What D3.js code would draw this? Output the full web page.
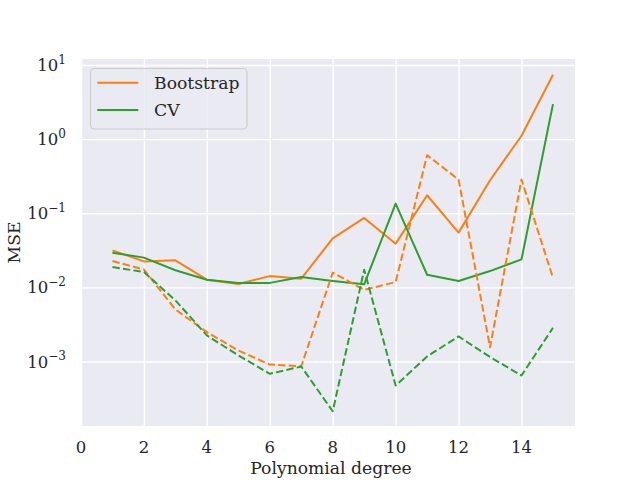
<!DOCTYPE html>
<html><head><meta charset="utf-8">
<script src="https://cdn.jsdelivr.net/npm/d3@7"></script>
<style>body{margin:0;background:#fff} svg{display:block}</style>
</head><body>
<svg id="c" width="640" height="480"></svg>
<script>
const degrees = [1,2,3,4,5,6,7,8,9,10,11,12,13,14,15];
const bootstrapSolid = [0.0316,0.0224,0.0232,0.0127,0.0111,0.0142,0.0131,0.0459,0.0865,0.0389,0.175,0.0548,0.279,1.11,7.4];
const cvSolid = [0.0294,0.0252,0.0170,0.0127,0.0115,0.0115,0.0138,0.0122,0.0110,0.135,0.0148,0.0122,0.0166,0.0239,2.97];
const bootstrapDashed = [0.0227,0.0174,0.00504,0.00249,0.00141,0.00091,0.000864,0.0158,0.0093,0.0118,0.608,0.285,0.00156,0.285,0.0134];
const cvDashed = [0.0188,0.0161,0.00667,0.00225,0.00121,0.000683,0.000855,0.000213,0.0173,0.000474,0.00117,0.00218,0.00115,0.000647,0.00285];
const xTicks = [0,2,4,6,8,10,12,14];
const yTicks = [1e-3,1e-2,1e-1,1e0,1e1];
const yTickExps = ["\u22123","\u22122","\u22121","0","1"];
const legendLabels = ["Bootstrap","CV"];
const colors = {boot:"#ff7f0e", cv:"#2ca02c"};

const FONT = "'DejaVu Serif', serif";
const svg = d3.select("#c");
const L = 81, R = 575, T = 59, B = 426;
const x = d3.scaleLinear().domain([0, 15.7]).range([L, R]);
const y = d3.scaleLog().domain([Math.pow(10,-3.87), Math.pow(10,1.081)]).range([B, T]);

svg.append("rect").attr("x",L).attr("y",T).attr("width",R-L).attr("height",B-T).attr("fill","#eaeaf2");

// grid via axes
const gx = svg.append("g").attr("transform",`translate(0,${B})`)
  .call(d3.axisBottom(x).tickValues(xTicks).tickSize(-(B-T)).tickFormat(""));
const gy = svg.append("g").attr("transform",`translate(${L},0)`)
  .call(d3.axisLeft(y).tickValues(yTicks).tickSize(-(R-L)).tickFormat(""));
[gx,gy].forEach(g=>{
  g.select(".domain").remove();
  g.selectAll(".tick line").attr("stroke","#fff").attr("stroke-width",1.4);
});

// x tick labels
svg.append("g").selectAll("text").data(xTicks).join("text")
  .attr("x",d=>x(d)).attr("y",453).attr("text-anchor","middle")
  .attr("font-family",FONT).attr("font-size",16.5).attr("fill","#262626")
  .text(d=>d);

// y tick labels with superscripts
const yl = svg.append("g").selectAll("text").data(yTicks).join("text")
  .attr("x",66).attr("y",d=>y(d)+6).attr("text-anchor","end")
  .attr("font-family",FONT).attr("font-size",16.5).attr("fill","#262626");
yl.append("tspan").text("10");
yl.append("tspan").attr("dy",-7.5).attr("font-size",12).text((d,i)=>yTickExps[i]);

// axis labels
svg.append("text").attr("x",(L+R)/2+3).attr("y",474).attr("text-anchor","middle")
  .attr("font-family",FONT).attr("font-size",17.2).attr("fill","#262626").text("Polynomial degree");
svg.append("text").attr("transform",`translate(20,${(T+B)/2}) rotate(-90)`).attr("text-anchor","middle")
  .attr("font-family",FONT).attr("font-size",17.2).attr("fill","#262626").text("MSE");

// lines
const line = vals => d3.line().x((d,i)=>x(degrees[i])).y(d=>y(d))(vals);
const series = [
  {v:bootstrapSolid, c:colors.boot, dash:null},
  {v:cvSolid, c:colors.cv, dash:null},
  {v:bootstrapDashed, c:colors.boot, dash:"7.4,3.2"},
  {v:cvDashed, c:colors.cv, dash:"7.4,3.2"}
];
const plot = svg.append("g");
series.forEach(s=>{
  plot.append("path").attr("d",line(s.v)).attr("fill","none")
    .attr("stroke",s.c).attr("stroke-width",2).attr("stroke-linejoin","round")
    .attr("stroke-dasharray",s.dash);
});

// legend
const lg = svg.append("g");
lg.append("rect").attr("x",90.5).attr("y",68.5).attr("width",156.5).attr("height",60.5).attr("rx",4)
  .attr("fill","#eaeaf2").attr("fill-opacity",0.8).attr("stroke","#cccccc").attr("stroke-width",1.2);
const legendColors = [colors.boot, colors.cv];
legendLabels.forEach((lab,i)=>{
  const yy = 82.7 + i*27.3;
  lg.append("line").attr("x1",97.3).attr("x2",138.3).attr("y1",yy).attr("y2",yy)
    .attr("stroke",legendColors[i]).attr("stroke-width",2);
  lg.append("text").attr("x",154).attr("y",yy+6).attr("font-family",FONT).attr("font-size",17.2)
    .attr("fill","#262626").text(lab);
});
</script>
</body></html>
